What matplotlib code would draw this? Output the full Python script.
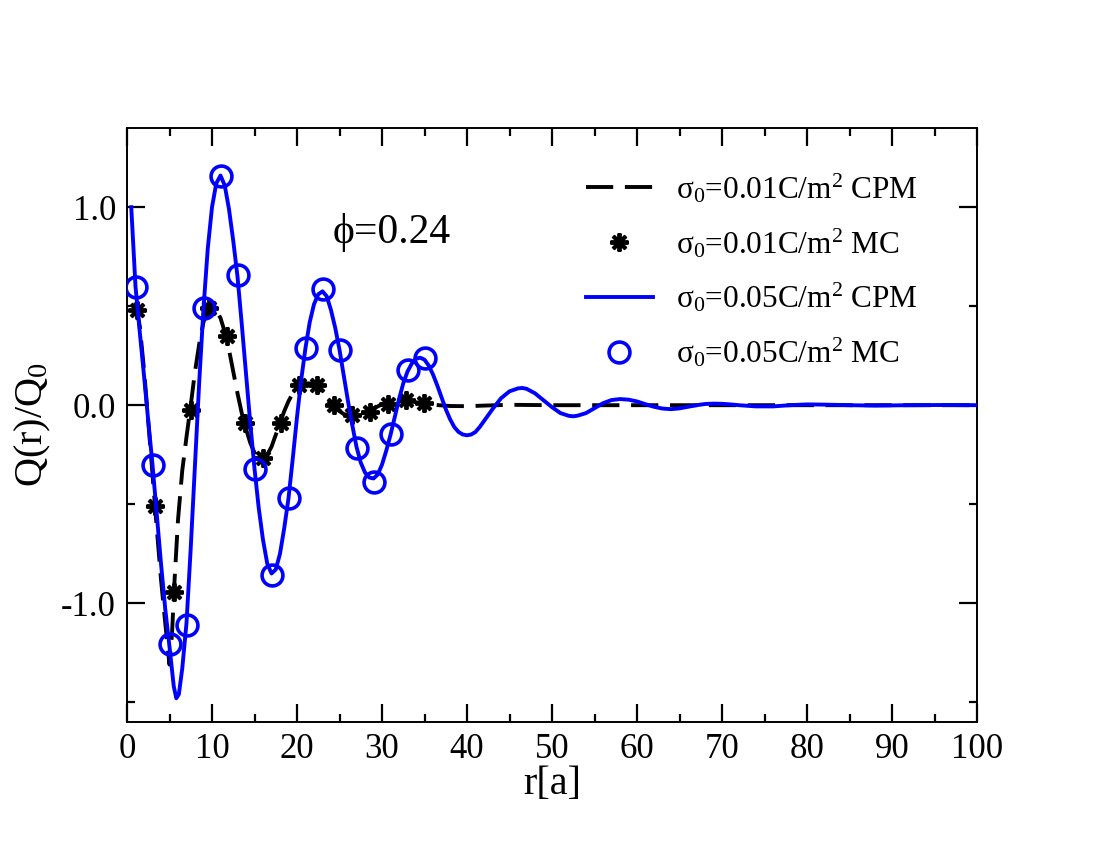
import numpy as np
import matplotlib
matplotlib.use('Agg')
import matplotlib.pyplot as plt
from matplotlib.ticker import MultipleLocator, FormatStrFormatter

# --- datos ---
# CPM sigma0 = 0.01 (linea discontinua negra)
r_cpm1 = [1.0, 1.5, 2.0, 2.5, 3.0, 3.5, 4.0, 4.5, 5.0, 5.3, 5.6, 6.0, 6.5, 7.0, 7.5,
          8.0, 8.5, 9.0, 9.5, 10.0, 10.5, 11.0, 11.5, 12.0, 12.5, 13.0, 13.5, 14.0,
          14.5, 15.0, 15.5, 16.0, 16.5, 17.0, 17.5, 18.0, 18.5, 19.0, 19.5, 20.0,
          20.5, 21.0, 21.5, 22.0, 22.5, 23.0, 23.5, 24.0, 24.5, 25.0, 25.5, 26.0,
          26.5, 27.0, 27.5, 28.0, 28.5, 29.0, 29.5, 30.0, 31.0, 32.0, 33.0, 34.0,
          35.0, 36.0, 38.0, 40.0, 42.0, 45.0, 50.0, 60.0, 70.0, 80.0, 90.0, 100.0]
q_cpm1 = [0.52, 0.40, 0.18, -0.08, -0.35, -0.62, -0.88, -1.10, -1.31, -1.15, -0.88,
          -0.58, -0.33, -0.16, 0.0, 0.17, 0.31, 0.42, 0.48, 0.50, 0.48, 0.44, 0.37,
          0.28, 0.17, 0.06, -0.04, -0.12, -0.19, -0.24, -0.265, -0.27, -0.25, -0.21,
          -0.15, -0.09, -0.03, 0.02, 0.06, 0.09, 0.105, 0.11, 0.11, 0.10, 0.08, 0.055,
          0.03, 0.005, -0.015, -0.03, -0.045, -0.05, -0.052, -0.05, -0.045, -0.036,
          -0.026, -0.016, -0.006, 0.004, 0.018, 0.025, 0.022, 0.015, 0.008, 0.002,
          -0.004, -0.005, -0.002, 0.002, 0.0, 0.0, 0.0, 0.0, 0.0, 0.0]

# MC sigma0 = 0.01 (asteriscos)
r_mc1 = [1.2, 3.3, 5.5, 7.5, 9.7, 11.8, 13.9, 16.0, 18.1, 20.2, 22.3, 24.4, 26.5,
         28.6, 30.7, 32.8, 34.9]
q_mc1 = [0.48, -0.51, -0.945, -0.025, 0.49, 0.35, -0.09, -0.265, -0.088, 0.10, 0.10,
         0.0, -0.052, -0.036, 0.006, 0.028, 0.012]

# CPM sigma0 = 0.05 (linea azul)
r_cpm5 = [0.5, 1.0, 1.5, 2.0, 2.5, 3.0, 3.5, 4.0, 4.5, 5.0, 5.5, 5.8, 6.1, 6.5, 7.0,
          7.5, 8.0, 8.5, 9.0, 9.5, 10.0, 10.5, 11.0, 11.5, 12.0, 12.5, 13.0, 13.5,
          14.0, 14.5, 15.0, 15.5, 16.0, 16.5, 17.0, 17.5, 18.0, 18.5, 19.0, 19.5,
          20.0, 20.5, 21.0, 21.5, 22.0, 22.5, 23.0, 23.5, 24.0, 24.5, 25.0, 25.5,
          26.0, 26.5, 27.0, 27.5, 28.0, 28.5, 29.0, 29.5, 30.0, 30.5, 31.0, 31.5,
          32.0, 32.5, 33.0, 33.5, 34.0, 34.5, 35.0, 35.5, 36.0, 36.5, 37.0, 37.5,
          38.0, 38.5, 39.0, 39.5, 40.0, 40.5, 41.0, 41.5, 42.0, 43.0, 44.0, 45.0,
          46.0, 46.5, 47.0, 48.0, 49.0, 50.0, 51.0, 52.0, 52.5, 53.0, 54.0, 55.0,
          56.0, 57.0, 58.0, 59.0, 60.0, 61.0, 62.0, 63.0, 64.0, 65.0, 66.0, 67.0,
          68.0, 69.0, 70.0, 71.0, 72.0, 74.0, 76.0, 78.0, 80.0, 82.0, 85.0, 88.0,
          92.0, 96.0, 100.0]
q_cpm5 = [1.00, 0.60, 0.37, 0.15, -0.08, -0.30, -0.55, -0.80, -1.03, -1.22, -1.42,
          -1.48, -1.46, -1.33, -1.10, -0.72, -0.30, 0.12, 0.49, 0.79, 1.00, 1.12,
          1.16, 1.11, 0.99, 0.83, 0.65, 0.41, 0.16, -0.09, -0.32, -0.52, -0.68,
          -0.80, -0.85, -0.83, -0.75, -0.62, -0.47, -0.27, -0.06, 0.13, 0.29, 0.42,
          0.51, 0.56, 0.575, 0.55, 0.48, 0.39, 0.28, 0.15, 0.02, -0.10, -0.21, -0.29,
          -0.34, -0.365, -0.37, -0.35, -0.30, -0.23, -0.15, -0.06, 0.03, 0.11, 0.17,
          0.21, 0.235, 0.24, 0.23, 0.20, 0.155, 0.10, 0.04, -0.02, -0.07, -0.11,
          -0.135, -0.148, -0.152, -0.148, -0.135, -0.11, -0.08, -0.02, 0.035, 0.07,
          0.085, 0.087, 0.083, 0.06, 0.025, -0.01, -0.04, -0.054, -0.056, -0.053,
          -0.04, -0.015, 0.01, 0.026, 0.031, 0.028, 0.019, 0.005, -0.008, -0.017,
          -0.02, -0.016, -0.008, 0.0, 0.006, 0.008, 0.007, 0.004, 0.0, -0.006,
          -0.006, 0.0, 0.004, 0.003, 0.0, -0.002, 0.0, 0.001, 0.0]

# MC sigma0 = 0.05 (circulos)
r_mc5 = [1, 3, 5, 7, 9, 11, 13, 15, 17, 19, 21, 23, 25, 27, 29, 31, 33, 35]
q_mc5 = [0.595, -0.30, -1.205, -1.11, 0.49, 1.16, 0.657, -0.323, -0.858, -0.467,
         0.29, 0.587, 0.28, -0.218, -0.388, -0.146, 0.177, 0.24]

plt.rcParams['font.family'] = ['Liberation Serif', 'DejaVu Serif']
plt.rcParams['mathtext.default'] = 'regular'
plt.rcParams['axes.unicode_minus'] = False

fig = plt.figure(figsize=(11, 8.5), dpi=100)
ax = fig.add_axes([127 / 1100, 1 - 722 / 850, 850 / 1100, 594 / 850])

ax.plot(r_cpm1, q_cpm1, color='black', lw=2.8, ls=(0, (7, 3)), zorder=2,
        label=r'$\sigma_0$=0.01C/m$^2$ CPM')
ax.plot(r_mc1, q_mc1, ls='none', marker=(8, 2, 0), ms=13, mew=2.8, color='black',
        zorder=3, label=r'$\sigma_0$=0.01C/m$^2$ MC')
ax.plot(r_cpm5, q_cpm5, color='#0000ff', lw=2.8, zorder=4,
        label=r'$\sigma_0$=0.05C/m$^2$ CPM')
ax.plot(r_mc5, q_mc5, ls='none', marker='o', ms=15, mew=2.6, mfc='none',
        mec='#0000ff', zorder=5, label=r'$\sigma_0$=0.05C/m$^2$ MC')

ax.set_xlim(0, 100)
ax.set_ylim(-1.6, 1.4)
ax.xaxis.set_major_locator(MultipleLocator(10))
ax.xaxis.set_minor_locator(MultipleLocator(5))
ax.yaxis.set_major_locator(MultipleLocator(1.0))
ax.yaxis.set_minor_locator(MultipleLocator(0.5))
ax.yaxis.set_major_formatter(FormatStrFormatter('%.1f'))
ax.tick_params(which='both', direction='in', top=True, right=True, width=1.6,
               labelsize=25)
ax.tick_params(which='major', length=13, pad=8)
ax.tick_params(which='minor', length=6)
for s in ax.spines.values():
    s.set_linewidth(1.4)

ax.set_xlabel('r[a]', fontsize=29, labelpad=0)
ax.set_ylabel('Q(r)/Q$_0$', fontsize=29, labelpad=6)

ax.text(24.2, 0.82, '\u03d5=0.24', fontsize=30, va='baseline')

ax.legend(loc='upper right', bbox_to_anchor=(0.945, 0.948), frameon=False,
          fontsize=22.5, handlelength=2.15, handletextpad=0.74, labelspacing=0.68,
          numpoints=1, borderaxespad=0)

fig.savefig('out.png', dpi=100)
